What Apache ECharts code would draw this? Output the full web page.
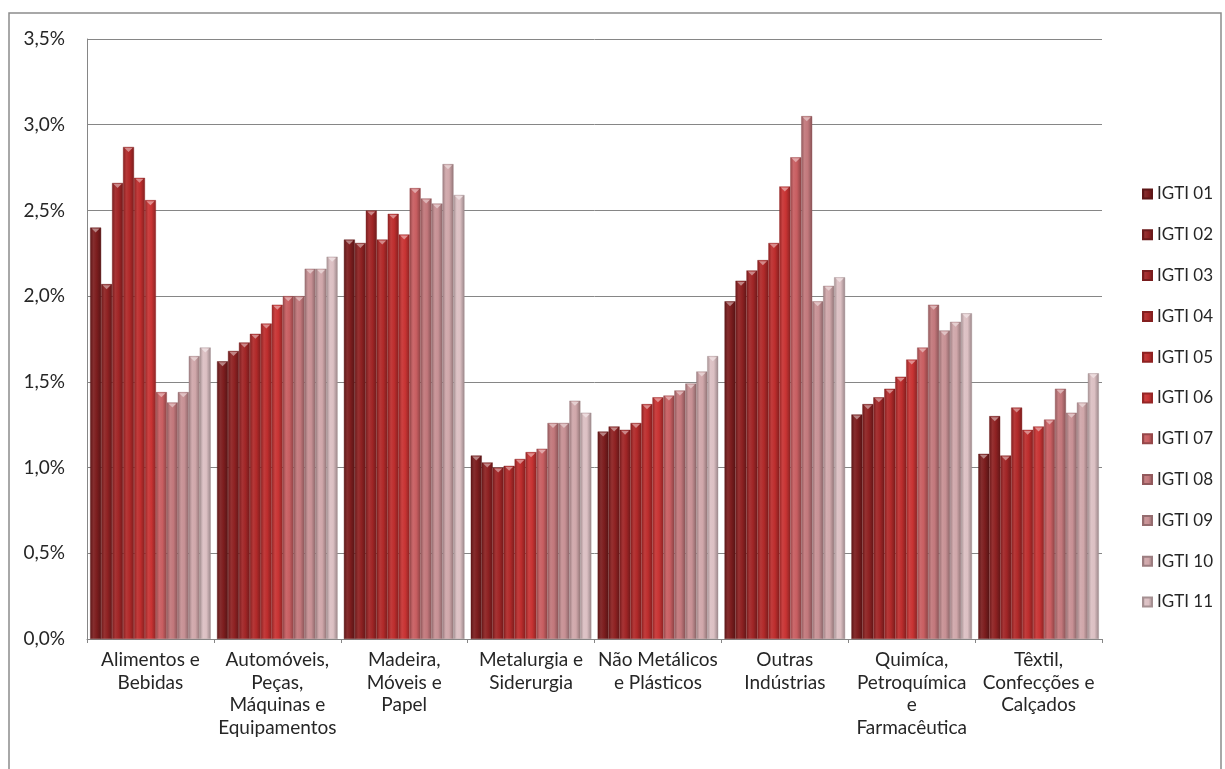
<!DOCTYPE html>
<html>
<head>
<meta charset="utf-8">
<script src="https://cdn.jsdelivr.net/npm/echarts@6/dist/echarts.min.js"></script>
<style>
  html, body { margin: 0; padding: 0; background: #ffffff; }
  #chart { width: 1225px; height: 769px; }
</style>
</head>
<body>
<div id="chart"></div>
<script>
// Sector categories (x axis)
const categories = [
  'Alimentos e\nBebidas',
  'Automóveis,\nPeças,\nMáquinas e\nEquipamentos',
  'Madeira,\nMóveis e\nPapel',
  'Metalurgia e\nSiderurgia',
  'Não Metálicos\ne Plásticos',
  'Outras\nIndústrias',
  'Quimíca,\nPetroquímica\ne\nFarmacêutica',
  'Têxtil,\nConfecções e\nCalçados'
];

// Index values per edition, in percent, one entry per sector
const seriesNames = ['IGTI 01','IGTI 02','IGTI 03','IGTI 04','IGTI 05','IGTI 06','IGTI 07','IGTI 08','IGTI 09','IGTI 10','IGTI 11'];
const igti01 = [2.40, 1.62, 2.33, 1.07, 1.21, 1.97, 1.31, 1.08];
const igti02 = [2.07, 1.68, 2.31, 1.03, 1.24, 2.09, 1.37, 1.30];
const igti03 = [2.66, 1.73, 2.50, 1.00, 1.22, 2.15, 1.41, 1.07];
const igti04 = [2.87, 1.78, 2.33, 1.01, 1.26, 2.21, 1.46, 1.35];
const igti05 = [2.69, 1.84, 2.48, 1.05, 1.37, 2.31, 1.53, 1.22];
const igti06 = [2.56, 1.95, 2.36, 1.09, 1.41, 2.64, 1.63, 1.24];
const igti07 = [1.44, 2.00, 2.63, 1.11, 1.42, 2.81, 1.70, 1.28];
const igti08 = [1.38, 2.00, 2.57, 1.26, 1.45, 3.05, 1.95, 1.46];
const igti09 = [1.44, 2.16, 2.54, 1.26, 1.49, 1.97, 1.80, 1.32];
const igti10 = [1.65, 2.16, 2.77, 1.39, 1.56, 2.06, 1.85, 1.38];
const igti11 = [1.70, 2.23, 2.59, 1.32, 1.65, 2.11, 1.90, 1.55];
const seriesValues = [igti01, igti02, igti03, igti04, igti05, igti06, igti07, igti08, igti09, igti10, igti11];

// Y axis tick labels
const yTickLabels = ['0,0%', '0,5%', '1,0%', '1,5%', '2,0%', '2,5%', '3,0%', '3,5%'];

// Base colours, dark maroon through bright red to pale rose
const baseColors = ['#7c1d1e','#8e2122','#a02526','#b02929','#bd2d2d','#c83333','#c85e61','#c2777b','#c79094','#d0a7aa','#dcc0c3'];

function shade(hex, f) {
  const n = parseInt(hex.slice(1), 16);
  let r = (n >> 16) & 255, g = (n >> 8) & 255, b = n & 255;
  if (f >= 0) { r += (255 - r) * f; g += (255 - g) * f; b += (255 - b) * f; }
  else { r *= 1 + f; g *= 1 + f; b *= 1 + f; }
  return 'rgb(' + Math.round(r) + ',' + Math.round(g) + ',' + Math.round(b) + ')';
}

// Rounded column look: darker edges, lighter band left of centre
function barFill(hex) {
  return new echarts.graphic.LinearGradient(0, 0, 1, 0, [
    { offset: 0, color: shade(hex, -0.25) },
    { offset: 0.3, color: shade(hex, 0.07) },
    { offset: 0.6, color: hex },
    { offset: 1, color: shade(hex, -0.3) }
  ]);
}

const font = 'Lato, "Open Sans", sans-serif';
const textColor = '#262626';

const series = seriesNames.map((name, k) => ({
  name: name,
  type: 'bar',
  data: seriesValues[k],
  barGap: '0%',
  barCategoryGap: '5%',
  itemStyle: {
    color: barFill(baseColors[k]),
    borderColor: shade(baseColors[k], -0.25),
    borderWidth: 0.4
  },
  emphasis: { disabled: true },
  markPoint: {
    symbol: 'triangle',
    symbolRotate: 180,
    symbolSize: [8, 4],
    symbolOffset: [0, 3],
    itemStyle: { color: shade(baseColors[k], 0.45) },
    label: { show: false },
    data: seriesValues[k].map((v, i) => ({ coord: [i, v] }))
  }
}));

const chart = echarts.init(document.getElementById('chart'), null, { renderer: 'canvas' });
chart.setOption({
  animation: false,
  backgroundColor: '#ffffff',
  textStyle: { fontFamily: font },
  graphic: [{
    type: 'rect',
    shape: { x: 9, y: 13, width: 1212, height: 770 },
    style: { fill: 'none', stroke: '#8c8c8c', lineWidth: 1.5 },
    silent: true
  }],
  grid: { left: 87, right: 123, top: 39, bottom: 130 },
  legend: {
    orient: 'vertical',
    left: 1137,
    top: 180,
    itemWidth: 9,
    itemHeight: 9,
    itemGap: 22.8,
    icon: 'rect',
    data: seriesNames,
    textStyle: { fontFamily: font, fontSize: 17, lineHeight: 18, color: textColor }
  },
  xAxis: {
    type: 'category',
    data: categories,
    axisLine: { lineStyle: { color: '#868686', width: 1 } },
    axisTick: { show: true, length: 4, lineStyle: { color: '#868686' } },
    axisLabel: {
      interval: 0,
      margin: 10,
      fontFamily: font,
      fontSize: 19,
      lineHeight: 22.5,
      color: textColor,
      align: 'center',
      verticalAlign: 'top'
    }
  },
  yAxis: {
    type: 'value',
    min: 0,
    max: 3.5,
    interval: 0.5,
    axisLine: { show: true, lineStyle: { color: '#868686', width: 1 } },
    axisTick: { show: false },
    splitLine: { lineStyle: { color: '#868686', width: 1 } },
    axisLabel: {
      margin: 22,
      fontFamily: font,
      fontSize: 19,
      color: textColor,
      formatter: (v) => yTickLabels[Math.round(v / 0.5)]
    }
  },
  series: series
});
</script>
</body>
</html>
